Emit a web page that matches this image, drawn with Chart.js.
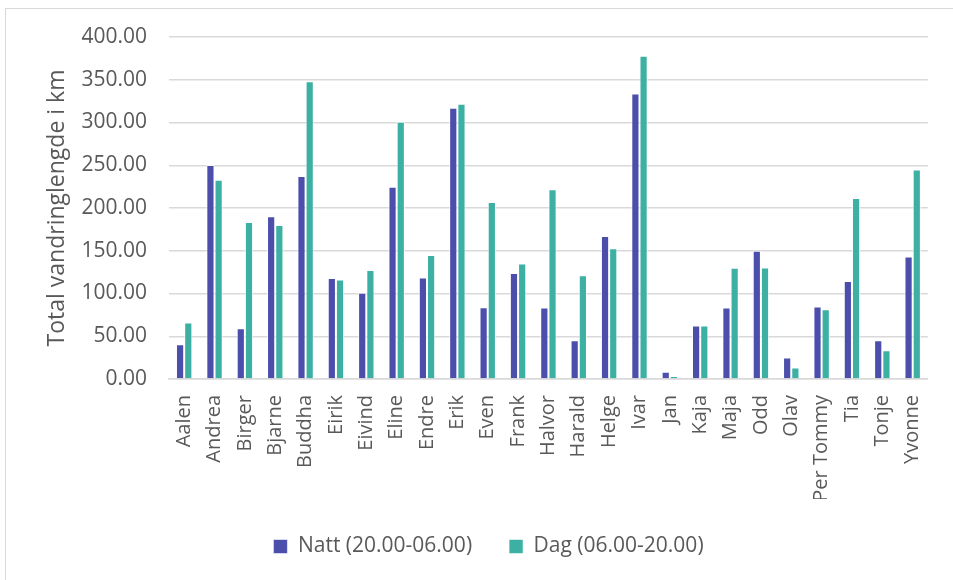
<!DOCTYPE html>
<html>
<head>
<meta charset="utf-8">
<script src="https://cdn.jsdelivr.net/npm/chart.js@4"></script>
<style>
  html, body { margin: 0; padding: 0; background: #ffffff; overflow: hidden; }
  #wrap { position: relative; width: 953px; height: 580px; }
  #frame { position: absolute; left: 5px; top: 8px; width: 960px; height: 600px; border: 1px solid #d9d9d9; box-sizing: border-box; }
  canvas { position: absolute; left: 0; top: 0; }
</style>
</head>
<body>
<div id="wrap">
  <div id="frame"></div>
  <canvas id="c" width="953" height="580"></canvas>
</div>
<script>
// Walking distance per animal, split into night and day hours
const categories = ["Aalen", "Andrea", "Birger", "Bjarne", "Buddha", "Eirik", "Eivind", "Eline", "Endre", "Erik",
  "Even", "Frank", "Halvor", "Harald", "Helge", "Ivar", "Jan", "Kaja", "Maja", "Odd", "Olav", "Per Tommy",
  "Tia", "Tonje", "Yvonne"];
const nattValues = [40.7, 250.4, 59.4, 190.3, 237.5, 118.0, 100.8, 225.0, 118.8, 317.2,
  84.0, 123.9, 83.6, 45.3, 167.2, 334.0, 8.6, 62.6, 83.7, 150.0, 25.1, 84.8,
  114.5, 45.3, 143.4];
const dagValues = [66.1, 232.9, 183.6, 180.1, 348.1, 116.5, 127.4, 300.8, 145.0, 321.9,
  207.1, 135.2, 222.0, 121.2, 152.8, 378.2, 3.5, 62.6, 130.1, 130.5, 13.4, 81.7,
  211.8, 33.6, 244.9];
const seriesNames = ["Natt (20.00-06.00)", "Dag (06.00-20.00)"];
const yTicks = [0, 50, 100, 150, 200, 250, 300, 350, 400];
const yTitle = "Total vandringlengde i km";

const textColor = "#595959";
const gridColor = "#d9d9d9";
const fontFamily = "'Open Sans', 'Liberation Sans', sans-serif";

const barStyle = {
  borderWidth: { top: 1, left: 1, right: 1, bottom: 0 },
  borderColor: "rgba(255,255,255,0.75)",
  borderSkipped: false,
  categoryPercentage: 0.54,
  barPercentage: 1.0
};

new Chart(document.getElementById("c"), {
  type: "bar",
  data: {
    labels: categories,
    datasets: [
      Object.assign({ label: seriesNames[0], data: nattValues, backgroundColor: "#4c4eac" }, barStyle),
      Object.assign({ label: seriesNames[1], data: dagValues, backgroundColor: "#3cb0a3" }, barStyle)
    ]
  },
  options: {
    responsive: false,
    animation: false,
    layout: { padding: { left: 40, right: 16, top: 37, bottom: 13 } },
    plugins: {
      tooltip: { enabled: false },
      legend: {
        position: "bottom",
        labels: {
          color: textColor,
          font: { family: fontFamily, size: 21 },
          boxWidth: 14,
          boxHeight: 14,
          padding: 37
        }
      }
    },
    scales: {
      x: {
        grid: { display: false, drawTicks: false },
        border: { display: true, color: gridColor, width: 1.5 },
        ticks: {
          color: textColor,
          font: { family: fontFamily, size: 20 },
          minRotation: 90,
          maxRotation: 90,
          autoSkip: false,
          padding: 16
        },
        afterFit: (scale) => { scale.height = 120; }
      },
      y: {
        min: 0,
        max: 400,
        afterBuildTicks: (scale) => { scale.ticks = yTicks.map(v => ({ value: v })); },
        grid: { color: gridColor, lineWidth: 1.5, drawTicks: false },
        border: { display: false },
        ticks: {
          color: textColor,
          font: { family: fontFamily, size: 21 },
          padding: 22,
          callback: (v) => Number(v).toFixed(2)
        },
        title: {
          display: true,
          text: yTitle,
          color: textColor,
          font: { family: fontFamily, size: 23 },
          padding: { top: 4, bottom: 4 }
        },
        afterFit: (scale) => { scale.width = 129; }
      }
    }
  }
});
</script>
</body>
</html>
